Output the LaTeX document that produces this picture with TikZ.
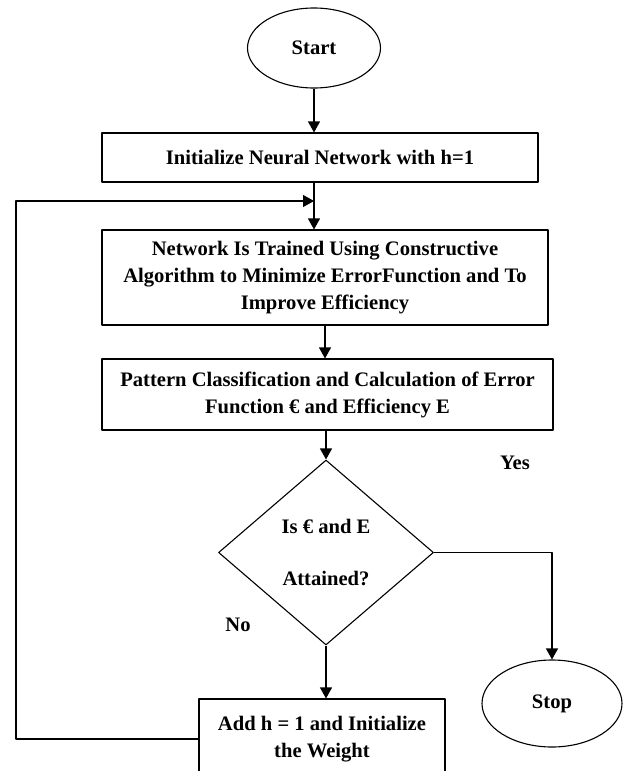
\documentclass[tikz,border=0pt]{standalone}
\usepackage{fontspec}
\setmainfont{Liberation Serif}
\usetikzlibrary{shapes.geometric,arrows.meta}
\begin{document}
\begin{tikzpicture}
[x=1pt, y=-1pt, font=\bfseries\fontsize{20.6}{27}\selectfont, line width=1.1pt, line join=round, >={Triangle[length=11pt,width=12pt]},
term/.style={draw, ellipse, inner sep=0pt},
stepbox/.style={draw, rectangle, align=center, inner sep=0pt}]
\clip (0,0) rectangle (623,771);
\node[term, minimum width=133pt, minimum height=80pt] (start) at (314,48) {Start};
\node[stepbox, minimum width=436pt, minimum height=49pt] (init) at (320,157.5) {Initialize Neural Network with h=1};
\node[stepbox, minimum width=446pt, minimum height=95pt] (train) at (325,277.5) {Network Is Trained Using Constructive\\Algorithm to Minimize ErrorFunction and To\\Improve Efficiency};
\node[stepbox, minimum width=451pt, minimum height=71pt] (pattern) at (327.5,394.5) {Pattern Classification and Calculation of Error\\Function € and Efficiency E};
\node[draw, diamond, minimum width=215pt, minimum height=185pt, inner sep=0pt, align=center] (test) at (326,552.5) {Is € and E\\[25pt]Attained?};
\node[term, minimum width=140pt, minimum height=87pt] (stop) at (552,703.5) {Stop};
\node[stepbox, minimum width=246pt, minimum height=80pt] (add) at (322,739) {Add h = 1 and Initialize\\the Weight};
\node (yes) at (515,463) {Yes};
\node (no) at (238,625) {No};
\coordinate (loop) at (16,201);
\draw[->] (start) -- (start |- init.north);
\draw[->] (init.south -| start) -- (train.north -| start);
\draw[->] (train.south) -- (train.south |- pattern.north);
\draw[->] (pattern.south -| test.north) -- (test.north);
\draw[->] (test.east) -| (stop.north);
\draw[->] (test.south) -- (test.south |- add.north);
\draw[->] (add.west) -| (loop) -- (loop -| start);
\end{tikzpicture}
\end{document}
